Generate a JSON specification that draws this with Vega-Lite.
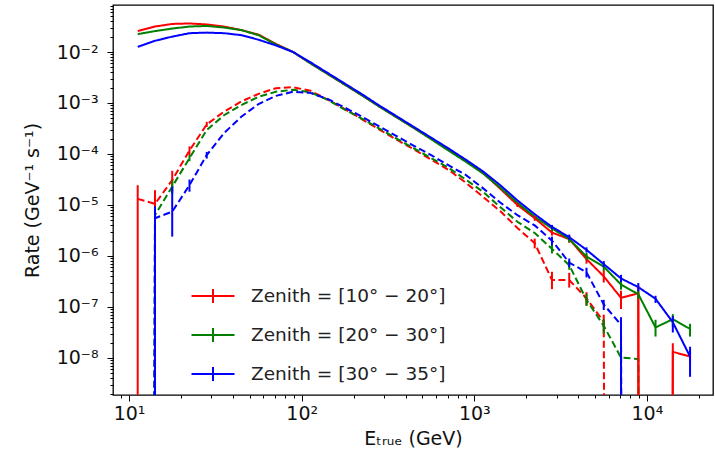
{
  "$schema": "https://vega.github.io/schema/vega-lite/v6.json",
  "width": 600,
  "height": 390,
  "autosize": "none",
  "padding": {"left": 113, "top": 5, "right": 2, "bottom": 54},
  "background": "white",
  "config": {
    "font": "DejaVu Sans",
    "view": {"stroke": "#000000", "strokeWidth": 1.3},
    "axis": {"grid": false, "domain": false, "tickColor": "#000000", "tickWidth": 1, "labelColor": "#111111", "titleColor": "#111111", "labelFont": "DejaVu Sans", "titleFont": "DejaVu Sans", "titleFontWeight": "normal", "labelOverlap": false, "labelBound": false, "labelFlush": false}
  },
  "data": {"values": [
    {"z":"a","t":"s","E":11.22,"r":0.0257},
    {"z":"a","t":"s","E":14.13,"r":0.0316},
    {"z":"a","t":"s","E":17.78,"r":0.0355},
    {"z":"a","t":"s","E":22.39,"r":0.0363},
    {"z":"a","t":"s","E":28.18,"r":0.0347},
    {"z":"a","t":"s","E":35.48,"r":0.0316},
    {"z":"a","t":"s","E":44.67,"r":0.0269},
    {"z":"a","t":"s","E":56.23,"r":0.0219},
    {"z":"a","t":"s","E":70.79,"r":0.01445},
    {"z":"a","t":"s","E":89.13,"r":0.0100},
    {"z":"a","t":"s","E":112.2,"r":0.00603},
    {"z":"a","t":"s","E":141.3,"r":0.00372},
    {"z":"a","t":"s","E":177.8,"r":0.00229},
    {"z":"a","t":"s","E":223.9,"r":0.00141},
    {"z":"a","t":"s","E":281.8,"r":0.000851},
    {"z":"a","t":"s","E":354.8,"r":0.000525},
    {"z":"a","t":"s","E":446.7,"r":0.000324},
    {"z":"a","t":"s","E":562.3,"r":0.000200},
    {"z":"a","t":"s","E":707.9,"r":0.000123},
    {"z":"a","t":"s","E":891.3,"r":7.41e-5},
    {"z":"a","t":"s","E":1122,"r":4.27e-5},
    {"z":"a","t":"s","E":1413,"r":2.09e-5},
    {"z":"a","t":"s","E":1778,"r":1.00e-5,"lo":9.12e-6,"hi":1.10e-5},
    {"z":"a","t":"s","E":2239,"r":5.50e-6,"lo":4.90e-6,"hi":6.17e-6},
    {"z":"a","t":"s","E":2818,"r":2.88e-6,"lo":2.51e-6,"hi":3.31e-6},
    {"z":"a","t":"s","E":3548,"r":2.14e-6,"lo":1.82e-6,"hi":2.51e-6},
    {"z":"a","t":"s","E":4467,"r":8.71e-7,"lo":7.08e-7,"hi":1.07e-6},
    {"z":"a","t":"s","E":5623,"r":3.98e-7,"lo":3.02e-7,"hi":5.25e-7},
    {"z":"a","t":"s","E":7079,"r":1.51e-7,"lo":9.12e-8,"hi":2.09e-7},
    {"z":"a","t":"s","E":8913,"r":1.86e-7,"lo":1e-100,"hi":2.63e-7},
    {"z":"a","t":"s","E":11220,"r":1e-100},
    {"z":"a","t":"s","E":14130,"r":1.32e-8,"lo":1e-100,"hi":1.95e-8},
    {"z":"a","t":"s","E":17780,"r":1.07e-8,"lo":7.94e-9,"hi":1.45e-8},

    {"z":"b","t":"s","E":11.22,"r":0.0224},
    {"z":"b","t":"s","E":14.13,"r":0.0257},
    {"z":"b","t":"s","E":17.78,"r":0.0288},
    {"z":"b","t":"s","E":22.39,"r":0.0316},
    {"z":"b","t":"s","E":28.18,"r":0.0324},
    {"z":"b","t":"s","E":35.48,"r":0.0302},
    {"z":"b","t":"s","E":44.67,"r":0.0269},
    {"z":"b","t":"s","E":56.23,"r":0.0214},
    {"z":"b","t":"s","E":70.79,"r":0.01413},
    {"z":"b","t":"s","E":89.13,"r":0.0100},
    {"z":"b","t":"s","E":112.2,"r":0.00603},
    {"z":"b","t":"s","E":141.3,"r":0.00372},
    {"z":"b","t":"s","E":177.8,"r":0.00229},
    {"z":"b","t":"s","E":223.9,"r":0.00141},
    {"z":"b","t":"s","E":281.8,"r":0.000851},
    {"z":"b","t":"s","E":354.8,"r":0.000525},
    {"z":"b","t":"s","E":446.7,"r":0.000324},
    {"z":"b","t":"s","E":562.3,"r":0.000195},
    {"z":"b","t":"s","E":707.9,"r":0.000117},
    {"z":"b","t":"s","E":891.3,"r":7.08e-5},
    {"z":"b","t":"s","E":1122,"r":4.17e-5},
    {"z":"b","t":"s","E":1413,"r":2.19e-5},
    {"z":"b","t":"s","E":1778,"r":1.10e-5},
    {"z":"b","t":"s","E":2239,"r":5.89e-6},
    {"z":"b","t":"s","E":2818,"r":3.47e-6,"lo":3.09e-6,"hi":3.89e-6},
    {"z":"b","t":"s","E":3548,"r":2.14e-6,"lo":1.86e-6,"hi":2.45e-6},
    {"z":"b","t":"s","E":4467,"r":9.77e-7,"lo":8.32e-7,"hi":1.15e-6},
    {"z":"b","t":"s","E":5623,"r":6.17e-7,"lo":5.13e-7,"hi":7.41e-7},
    {"z":"b","t":"s","E":7079,"r":2.75e-7,"lo":2.19e-7,"hi":3.55e-7},
    {"z":"b","t":"s","E":8913,"r":1.78e-7,"lo":1.45e-7,"hi":2.14e-7},
    {"z":"b","t":"s","E":11220,"r":3.98e-8,"lo":2.63e-8,"hi":5.62e-8},
    {"z":"b","t":"s","E":14130,"r":5.75e-8,"lo":4.07e-8,"hi":7.24e-8},
    {"z":"b","t":"s","E":17780,"r":3.72e-8,"lo":2.63e-8,"hi":4.68e-8},

    {"z":"c","t":"s","E":11.22,"r":0.0126},
    {"z":"c","t":"s","E":14.13,"r":0.0166},
    {"z":"c","t":"s","E":17.78,"r":0.0200},
    {"z":"c","t":"s","E":22.39,"r":0.0234},
    {"z":"c","t":"s","E":28.18,"r":0.0240},
    {"z":"c","t":"s","E":35.48,"r":0.0234},
    {"z":"c","t":"s","E":44.67,"r":0.0214},
    {"z":"c","t":"s","E":56.23,"r":0.0174},
    {"z":"c","t":"s","E":70.79,"r":0.0135},
    {"z":"c","t":"s","E":89.13,"r":0.0100},
    {"z":"c","t":"s","E":112.2,"r":0.00631},
    {"z":"c","t":"s","E":141.3,"r":0.00389},
    {"z":"c","t":"s","E":177.8,"r":0.00240},
    {"z":"c","t":"s","E":223.9,"r":0.00148},
    {"z":"c","t":"s","E":281.8,"r":0.000891},
    {"z":"c","t":"s","E":354.8,"r":0.000550},
    {"z":"c","t":"s","E":446.7,"r":0.000339},
    {"z":"c","t":"s","E":562.3,"r":0.000209},
    {"z":"c","t":"s","E":707.9,"r":0.000129},
    {"z":"c","t":"s","E":891.3,"r":7.76e-5},
    {"z":"c","t":"s","E":1122,"r":4.57e-5},
    {"z":"c","t":"s","E":1413,"r":2.45e-5},
    {"z":"c","t":"s","E":1778,"r":1.23e-5},
    {"z":"c","t":"s","E":2239,"r":6.61e-6},
    {"z":"c","t":"s","E":2818,"r":3.72e-6,"lo":3.39e-6,"hi":4.07e-6},
    {"z":"c","t":"s","E":3548,"r":2.34e-6,"lo":2.09e-6,"hi":2.63e-6},
    {"z":"c","t":"s","E":4467,"r":1.32e-6,"lo":1.17e-6,"hi":1.48e-6},
    {"z":"c","t":"s","E":5623,"r":6.92e-7,"lo":6.03e-7,"hi":7.94e-7},
    {"z":"c","t":"s","E":7079,"r":3.63e-7,"lo":3.09e-7,"hi":4.27e-7},
    {"z":"c","t":"s","E":8913,"r":2.45e-7,"lo":2.04e-7,"hi":2.95e-7},
    {"z":"c","t":"s","E":11220,"r":1.45e-7,"lo":1.20e-7,"hi":1.66e-7},
    {"z":"c","t":"s","E":14130,"r":5.01e-8,"lo":3.16e-8,"hi":6.61e-8},
    {"z":"c","t":"s","E":17780,"r":1.07e-8,"lo":4.27e-9,"hi":1.66e-8},

    {"z":"a","t":"d","E":11.22,"r":1.32e-5,"lo":1e-100,"hi":2.45e-5},
    {"z":"a","t":"d","E":14.13,"r":1.05e-5,"lo":9.12e-6,"hi":1.95e-5},
    {"z":"a","t":"d","E":17.78,"r":3.09e-5,"lo":1.86e-5,"hi":4.68e-5},
    {"z":"a","t":"d","E":22.39,"r":1.17e-4,"lo":9.55e-5,"hi":1.41e-4},
    {"z":"a","t":"d","E":28.18,"r":3.80e-4,"lo":3.39e-4,"hi":4.27e-4},
    {"z":"a","t":"d","E":35.48,"r":6.76e-4},
    {"z":"a","t":"d","E":44.67,"r":1.07e-3},
    {"z":"a","t":"d","E":56.23,"r":1.51e-3},
    {"z":"a","t":"d","E":70.79,"r":1.95e-3},
    {"z":"a","t":"d","E":89.13,"r":2.04e-3},
    {"z":"a","t":"d","E":112.2,"r":1.74e-3},
    {"z":"a","t":"d","E":141.3,"r":1.17e-3},
    {"z":"a","t":"d","E":177.8,"r":7.59e-4},
    {"z":"a","t":"d","E":223.9,"r":4.79e-4},
    {"z":"a","t":"d","E":281.8,"r":3.02e-4},
    {"z":"a","t":"d","E":354.8,"r":1.91e-4},
    {"z":"a","t":"d","E":446.7,"r":1.23e-4},
    {"z":"a","t":"d","E":562.3,"r":7.76e-5},
    {"z":"a","t":"d","E":707.9,"r":4.90e-5},
    {"z":"a","t":"d","E":891.3,"r":2.75e-5},
    {"z":"a","t":"d","E":1122,"r":1.45e-5},
    {"z":"a","t":"d","E":1413,"r":7.59e-6},
    {"z":"a","t":"d","E":1778,"r":3.55e-6},
    {"z":"a","t":"d","E":2239,"r":1.78e-6,"lo":1.41e-6,"hi":2.19e-6},
    {"z":"a","t":"d","E":2818,"r":3.39e-7,"lo":2.24e-7,"hi":4.90e-7},
    {"z":"a","t":"d","E":3548,"r":3.39e-7,"lo":2.40e-7,"hi":4.68e-7},
    {"z":"a","t":"d","E":4467,"r":1.48e-7,"lo":1.07e-7,"hi":1.95e-7},
    {"z":"a","t":"d","E":5623,"r":5.13e-8,"lo":3.39e-8,"hi":7.08e-8},
    {"z":"a","t":"d","E":7079,"r":1e-100},

    {"z":"b","t":"d","E":11.22,"r":1e-100},
    {"z":"b","t":"d","E":14.13,"r":6.31e-6,"lo":4.17e-6,"hi":8.91e-6},
    {"z":"b","t":"d","E":17.78,"r":2.29e-5,"lo":1.66e-5,"hi":3.02e-5},
    {"z":"b","t":"d","E":22.39,"r":8.32e-5,"lo":7.24e-5,"hi":9.55e-5},
    {"z":"b","t":"d","E":28.18,"r":2.95e-4},
    {"z":"b","t":"d","E":35.48,"r":5.75e-4},
    {"z":"b","t":"d","E":44.67,"r":9.12e-4},
    {"z":"b","t":"d","E":56.23,"r":1.32e-3},
    {"z":"b","t":"d","E":70.79,"r":1.66e-3},
    {"z":"b","t":"d","E":89.13,"r":1.82e-3},
    {"z":"b","t":"d","E":112.2,"r":1.62e-3},
    {"z":"b","t":"d","E":141.3,"r":1.15e-3},
    {"z":"b","t":"d","E":177.8,"r":7.41e-4},
    {"z":"b","t":"d","E":223.9,"r":4.90e-4},
    {"z":"b","t":"d","E":281.8,"r":3.16e-4},
    {"z":"b","t":"d","E":354.8,"r":2.00e-4},
    {"z":"b","t":"d","E":446.7,"r":1.29e-4},
    {"z":"b","t":"d","E":562.3,"r":8.32e-5},
    {"z":"b","t":"d","E":707.9,"r":5.37e-5},
    {"z":"b","t":"d","E":891.3,"r":3.16e-5},
    {"z":"b","t":"d","E":1122,"r":1.82e-5},
    {"z":"b","t":"d","E":1413,"r":9.12e-6},
    {"z":"b","t":"d","E":1778,"r":4.68e-6},
    {"z":"b","t":"d","E":2239,"r":2.82e-6},
    {"z":"b","t":"d","E":2818,"r":1.38e-6,"lo":1.12e-6,"hi":1.66e-6},
    {"z":"b","t":"d","E":3548,"r":6.61e-7,"lo":5.37e-7,"hi":7.94e-7},
    {"z":"b","t":"d","E":4467,"r":1.38e-7,"lo":1.05e-7,"hi":1.82e-7},
    {"z":"b","t":"d","E":5623,"r":4.27e-8,"lo":3.02e-8,"hi":5.75e-8},
    {"z":"b","t":"d","E":7079,"r":1.02e-8,"lo":7.59e-9,"hi":1.32e-8},
    {"z":"b","t":"d","E":8913,"r":9.55e-9},
    {"z":"b","t":"d","E":11220,"r":1e-100},

    {"z":"c","t":"d","E":11.22,"r":1e-100},
    {"z":"c","t":"d","E":14.13,"r":5.50e-6,"lo":1e-100,"hi":9.33e-6},
    {"z":"c","t":"d","E":17.78,"r":7.41e-6,"lo":2.40e-6,"hi":2.29e-5},
    {"z":"c","t":"d","E":22.39,"r":2.45e-5,"lo":1.82e-5,"hi":3.16e-5},
    {"z":"c","t":"d","E":28.18,"r":9.55e-5,"lo":8.13e-5,"hi":1.10e-4},
    {"z":"c","t":"d","E":35.48,"r":2.57e-4},
    {"z":"c","t":"d","E":44.67,"r":5.37e-4},
    {"z":"c","t":"d","E":56.23,"r":9.55e-4},
    {"z":"c","t":"d","E":70.79,"r":1.38e-3},
    {"z":"c","t":"d","E":89.13,"r":1.66e-3},
    {"z":"c","t":"d","E":112.2,"r":1.58e-3},
    {"z":"c","t":"d","E":141.3,"r":1.20e-3},
    {"z":"c","t":"d","E":177.8,"r":8.13e-4},
    {"z":"c","t":"d","E":223.9,"r":5.37e-4},
    {"z":"c","t":"d","E":281.8,"r":3.47e-4},
    {"z":"c","t":"d","E":354.8,"r":2.24e-4},
    {"z":"c","t":"d","E":446.7,"r":1.45e-4},
    {"z":"c","t":"d","E":562.3,"r":9.55e-5},
    {"z":"c","t":"d","E":707.9,"r":6.03e-5},
    {"z":"c","t":"d","E":891.3,"r":3.89e-5},
    {"z":"c","t":"d","E":1122,"r":2.14e-5},
    {"z":"c","t":"d","E":1413,"r":1.12e-5},
    {"z":"c","t":"d","E":1778,"r":6.31e-6},
    {"z":"c","t":"d","E":2239,"r":3.98e-6},
    {"z":"c","t":"d","E":2818,"r":2.00e-6,"lo":1.62e-6,"hi":2.40e-6},
    {"z":"c","t":"d","E":3548,"r":7.41e-7,"lo":6.03e-7,"hi":8.91e-7},
    {"z":"c","t":"d","E":4467,"r":4.79e-7,"lo":3.80e-7,"hi":5.89e-7},
    {"z":"c","t":"d","E":5623,"r":1.12e-7,"lo":8.71e-8,"hi":1.38e-7},
    {"z":"c","t":"d","E":7079,"r":4.47e-8,"lo":1e-100,"hi":6.31e-8},
    {"z":"c","t":"d","E":8913,"r":1e-100}
  ]},
  "encoding": {
    "x": {
      "field": "E", "type": "quantitative",
      "scale": {"type": "log", "domain": [8.07, 24150], "nice": false},
      "axis": {
        "orient": "bottom",
        "values": [9,10,20,30,40,50,60,70,80,90,100,200,300,400,500,600,700,800,900,1000,2000,3000,4000,5000,6000,7000,8000,9000,10000,20000],
        "labelExpr": "abs(log(datum.value)/LN10 - round(log(datum.value)/LN10)) > 0.01 ? '' : '10' + replace(replace(replace(replace(replace(replace(replace(replace(replace(replace(replace('' + round(log(datum.value)/LN10), '-', '⁻'), '0','⁰'), '1','¹'), '2','²'), '3','³'), '4','⁴'), '5','⁵'), '6','⁶'), '7','⁷'), '8','⁸'), '9','⁹')",
        "tickSize": {"condition": {"test": "abs(log(datum.value)/LN10 - round(log(datum.value)/LN10)) < 0.01", "value": 6}, "value": 3},
        "labelFontSize": 19,
        "labelPadding": 3,
        "title": "Eₜᵣᵤₑ (GeV)",
        "titleFontSize": 19,
        "titlePadding": 6
      }
    },
    "y": {
      "field": "r", "type": "quantitative",
      "scale": {"type": "log", "domain": [1.88e-9, 0.0835], "nice": false},
      "axis": {
        "orient": "left",
        "values": [2e-9,3e-9,4e-9,5e-9,6e-9,7e-9,8e-9,9e-9,1e-8,2e-8,3e-8,4e-8,5e-8,6e-8,7e-8,8e-8,9e-8,1e-7,2e-7,3e-7,4e-7,5e-7,6e-7,7e-7,8e-7,9e-7,1e-6,2e-6,3e-6,4e-6,5e-6,6e-6,7e-6,8e-6,9e-6,1e-5,2e-5,3e-5,4e-5,5e-5,6e-5,7e-5,8e-5,9e-5,1e-4,2e-4,3e-4,4e-4,5e-4,6e-4,7e-4,8e-4,9e-4,1e-3,2e-3,3e-3,4e-3,5e-3,6e-3,7e-3,8e-3,9e-3,1e-2,2e-2,3e-2,4e-2,5e-2,6e-2,7e-2,8e-2],
        "labelExpr": "abs(log(datum.value)/LN10 - round(log(datum.value)/LN10)) > 0.01 ? '' : '10' + replace(replace(replace(replace(replace(replace(replace(replace(replace(replace(replace('' + round(log(datum.value)/LN10), '-', '⁻'), '0','⁰'), '1','¹'), '2','²'), '3','³'), '4','⁴'), '5','⁵'), '6','⁶'), '7','⁷'), '8','⁸'), '9','⁹')",
        "tickSize": {"condition": {"test": "abs(log(datum.value)/LN10 - round(log(datum.value)/LN10)) < 0.01", "value": 6}, "value": 3},
        "labelFontSize": 19,
        "labelPadding": 9,
        "title": "Rate (GeV⁻¹ s⁻¹)",
        "titleFontSize": 19,
        "titlePadding": 14
      }
    },
    "color": {
      "field": "z", "type": "nominal",
      "scale": {"domain": ["a","b","c"], "range": ["#ff0000","#008000","#0000ff"]},
      "legend": {
        "orient": "none", "legendX": 89, "legendY": 280, "direction": "vertical",
        "title": null, "padding": 0,
        "labelExpr": "datum.label == 'a' ? 'Zenith = [10° − 20°]' : datum.label == 'b' ? 'Zenith = [20° − 30°]' : 'Zenith = [30° − 35°]'",
        "labelFontSize": 18.5, "labelColor": "#222222", "labelFont": "DejaVu Sans",
        "labelLimit": 0,
        "labelOffset": 27,
        "symbolType": "M-2.15,0H2.15M0,-0.7V0.7",
        "symbolSize": 400, "symbolStrokeWidth": 2, "symbolFillColor": "transparent",
        "rowPadding": 17
      }
    }
  },
  "layer": [
    {
      "mark": {"type": "line", "strokeWidth": 2, "clip": true},
      "encoding": {
        "strokeDash": {
          "field": "t", "type": "nominal",
          "scale": {"domain": ["s","d"], "range": [[1,0],[7,3.5]]},
          "legend": null
        }
      }
    },
    {
      "transform": [{"filter": "isValid(datum.lo)"}],
      "mark": {"type": "rule", "strokeWidth": 2, "clip": true},
      "encoding": {
        "y": {"field": "lo", "type": "quantitative"},
        "y2": {"field": "hi"}
      }
    }
  ]
}
